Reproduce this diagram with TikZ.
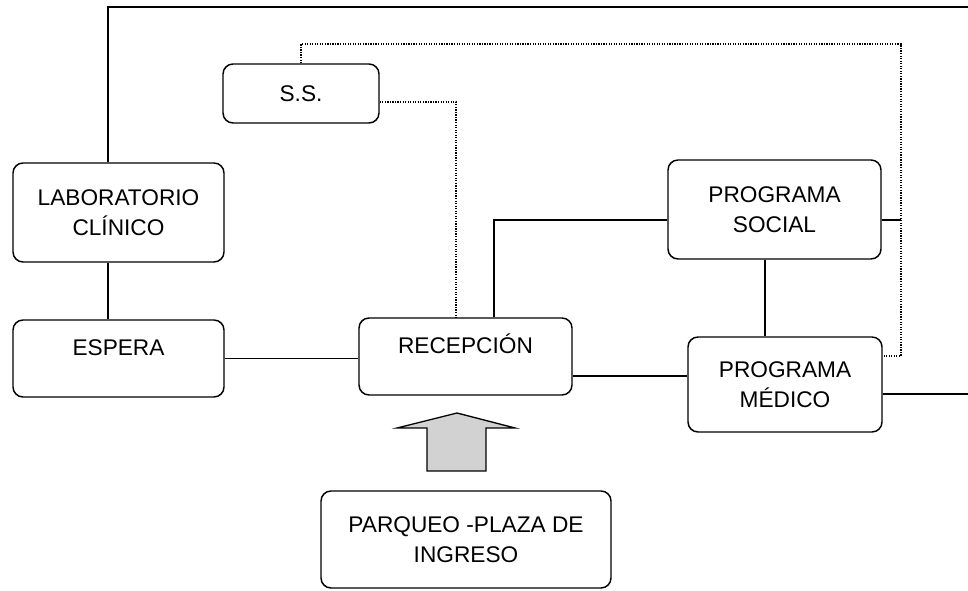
\documentclass[tikz,border=0pt]{standalone}
\usepackage{fontspec}
\setmainfont{Liberation Sans}
\begin{document}
\begin{tikzpicture}[x=0.75pt,y=-0.75pt,
  box/.style={draw,rounded corners=7.5pt,line width=1.1pt,inner sep=0pt,align=center,
    font=\fontsize{17}{22.5}\selectfont},
  hightext/.style={text height=12pt,text depth=16.6pt},
  link/.style={line width=1pt},
  dots/.style={line width=0.9pt,densely dotted}]
\useasboundingbox (0,0) rectangle (968,591);
% boxes
\node[box,minimum width=158.25pt,minimum height=74.25pt] (lab) at (118.5,212.5) {LABORATORIO\\CLÍNICO};
\node[box,minimum width=117pt,minimum height=44.25pt] (ss) at (301,93.5) {S.S.};
\node[box,hightext,minimum width=158.25pt,minimum height=57.75pt] (esp) at (118.5,358.5) {ESPERA};
\node[box,hightext,minimum width=159.75pt,minimum height=57.75pt] (rec) at (465.5,356.5) {RECEPCIÓN};
\node[box,minimum width=159.75pt,minimum height=74.25pt] (ps) at (774.5,209.5) {PROGRAMA\\SOCIAL};
\node[box,minimum width=145.5pt,minimum height=71.25pt] (pm) at (785,384.5) {PROGRAMA\\MÉDICO};
\node[box,minimum width=217.5pt,minimum height=72.75pt] (parq) at (466,539.5) {PARQUEO -PLAZA DE\\INGRESO};
% solid connectors
\coordinate (c1) at (108,7);
\coordinate (topR) at (968,7);
\draw[link] (lab.north -| c1) -- (c1) -- (topR);
\draw[link] (lab.south -| c1) -- (esp.north -| c1);
\draw[link] (esp.east) -- (esp.east -| rec.west);
\coordinate (r1) at (494,220);
\draw[link] (rec.north -| r1) -- (r1) -- (r1 -| ps.west);
\coordinate (r2) at (572,376);
\draw[link] (rec.east |- r2) -- (r2 -| pm.west);
\coordinate (p1) at (765,300);
\draw[link] (ps.south -| p1) -- (pm.north -| p1);
\coordinate (d1) at (901,220);
\draw[link] (ps.east |- d1) -- (d1);
\coordinate (pmR) at (968,394);
\draw[link] (pm.east |- pmR) -- (pmR);
% dotted connectors
\coordinate (s1) at (301,44);
\coordinate (s2) at (901,44);
\coordinate (s3) at (901,356);
\draw[dots] (ss.north -| s1) -- (s1) -- (s2) -- (s3) -- (s3 -| pm.east);
\coordinate (s4) at (456,102);
\draw[dots] (ss.east |- s4) -- (s4) -- (s4 |- rec.north);
% entrance arrow
\draw[line width=1pt,fill=gray!35,line join=miter]
  (427,471) -- (427,428) -- (397,428) -- (457,413) -- (515,428) -- (486,428) -- (486,471) -- cycle;
\end{tikzpicture}
\end{document}
